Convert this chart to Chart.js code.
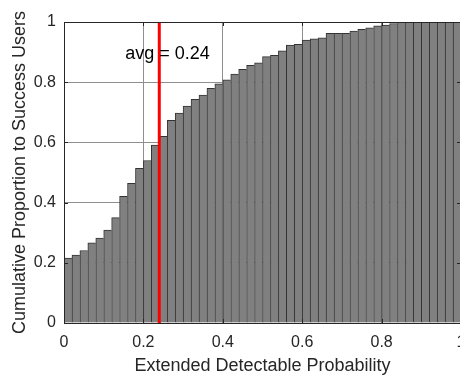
<!DOCTYPE html>
<html>
<head>
<meta charset="utf-8">
<script src="https://cdn.jsdelivr.net/npm/chart.js@4.4.1/dist/chart.umd.min.js"></script>
<style>
  html, body { margin: 0; padding: 0; background: #fff; overflow: hidden; }
  canvas { display: block; }
</style>
</head>
<body>
<canvas id="cdf" width="466" height="377"></canvas>
<script>
// histogram bins, 0.02 wide, from 0 to 1
const binStart = 0;
const binWidth = 0.02;
// cumulative share
const cumulative = [
  0.216, 0.226, 0.241, 0.266, 0.282, 0.309, 0.350, 0.421, 0.464, 0.514,
  0.540, 0.591, 0.620, 0.673, 0.697, 0.721, 0.743, 0.757, 0.780, 0.795,
  0.808, 0.827, 0.843, 0.856, 0.864, 0.885, 0.889, 0.904, 0.923, 0.926,
  0.940, 0.944, 0.947, 0.962, 0.962, 0.962, 0.970, 0.976, 0.981, 0.987,
  0.990, 0.995, 1.000, 1.000, 1.000, 1.000, 1.000, 1.000, 1.000, 1.000
];
const avgValue = 0.24;
const avgLabel = "avg = " + avgValue;
const xTitle = "Extended Detectable Probability";
const yTitle = "Cumulative Proportion to Success Users";

const barPoints = cumulative.map((v, i) => ({ x: binStart + binWidth * (i + 0.5), y: v }));

const textColor = "#262626";
Chart.defaults.font.family = "'Liberation Sans', Arial, sans-serif";
Chart.defaults.color = textColor;

const fmt = v => String(Number(v.toFixed(1)));

// matlab-like box, inward ticks and the avg text
const boxPlugin = {
  id: "box",
  afterDatasetsDraw(chart) {
    const { ctx, chartArea: a, scales: { x, y } } = chart;
    ctx.save();
    ctx.strokeStyle = textColor;
    ctx.lineWidth = 1;
    ctx.strokeRect(a.left + 0.5, a.top + 0.5, a.right - a.left - 1, a.bottom - a.top);
    ctx.beginPath();
    x.ticks.forEach(t => {
      const px = Math.round(x.getPixelForValue(t.value)) + 0.5;
      ctx.moveTo(px, a.bottom); ctx.lineTo(px, a.bottom - 4);
      ctx.moveTo(px, a.top); ctx.lineTo(px, a.top + 4);
    });
    y.ticks.forEach(t => {
      const py = Math.round(y.getPixelForValue(t.value)) + 0.5;
      ctx.moveTo(a.left, py); ctx.lineTo(a.left + 4, py);
      ctx.moveTo(a.right, py); ctx.lineTo(a.right - 4, py);
    });
    ctx.stroke();

    ctx.fillStyle = "#000";
    ctx.font = "18px 'Liberation Sans', Arial, sans-serif";
    ctx.textBaseline = "middle";
    ctx.fillText(avgLabel, x.getPixelForValue(0.154), y.getPixelForValue(0.894));
    ctx.restore();
  }
};

new Chart(document.getElementById("cdf"), {
  type: "bar",
  data: {
    datasets: [
      {
        type: "line",
        data: [{ x: avgValue, y: 0 }, { x: avgValue, y: 1 }],
        borderColor: "#ff0000",
        borderWidth: 3,
        pointRadius: 0,
        order: 0
      },
      {
        type: "bar",
        data: barPoints,
        backgroundColor: "#808080",
        borderColor: "#333333",
        borderWidth: { left: 1, top: 1, right: 0, bottom: 0 },
        barPercentage: 1,
        categoryPercentage: 1,
        order: 1
      }
    ]
  },
  options: {
    responsive: false,
    animation: false,
    layout: { padding: { top: 22, right: 5, left: 0, bottom: 0 } },
    plugins: {
      legend: { display: false },
      tooltip: { enabled: false }
    },
    scales: {
      x: {
        type: "linear",
        min: 0,
        max: 1,
        offset: false,
        grid: { offset: false, color: "#8f8f8f", drawTicks: false },
        border: { display: false },
        ticks: { stepSize: 0.2, padding: 10, font: { size: 16 }, maxRotation: 0, callback: fmt },
        title: { display: true, text: xTitle, font: { size: 18 }, padding: { top: 2, bottom: 0 } },
        afterFit: s => { s.height = 54; s.paddingLeft = 0; s.paddingRight = 0; }
      },
      y: {
        min: 0,
        max: 1,
        grid: { color: "#8f8f8f", drawTicks: false },
        border: { display: false },
        ticks: { stepSize: 0.2, padding: 8, font: { size: 16 }, callback: fmt },
        title: { display: true, text: yTitle, font: { size: 18 }, padding: { top: 9, bottom: 0 } },
        afterFit: s => { s.width = 64; s.paddingTop = 0; s.paddingBottom = 0; }
      }
    }
  },
  plugins: [boxPlugin]
});
</script>
</body>
</html>
